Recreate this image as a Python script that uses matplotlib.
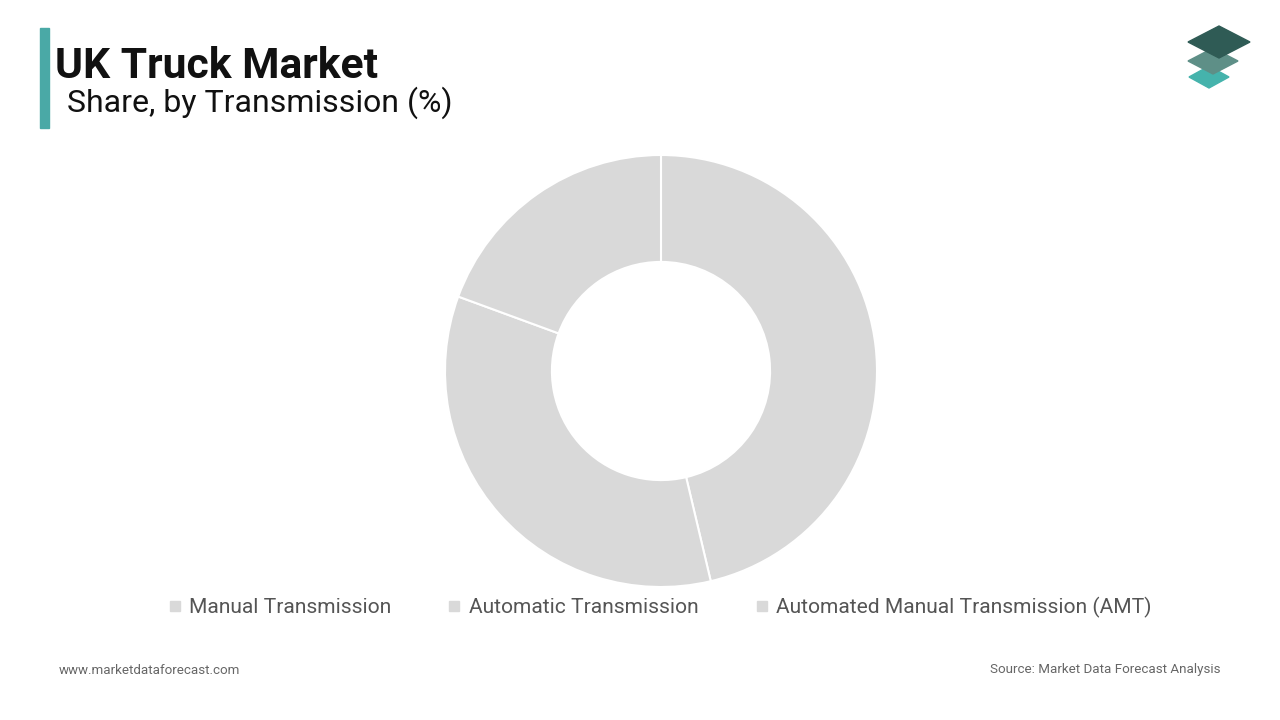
import matplotlib
matplotlib.use("Agg")
import matplotlib.pyplot as plt
from matplotlib.patches import Rectangle, Polygon
from matplotlib.lines import Line2D

categories = ["Manual Transmission", "Automatic Transmission", "Automated Manual Transmission (AMT)"]
values = [46.3, 34.3, 19.4]
colors = ["#d9d9d9", "#d9d9d9", "#d9d9d9"]

plt.rcParams['font.family'] = ['Roboto', 'DejaVu Sans']
fig = plt.figure(figsize=(12.8, 7.2), dpi=100)

W, H = 1280, 720
cx, cy, r = 661, 371, 216
ax = fig.add_axes([(cx - r) / W, (H - cy - r) / H, 2 * r / W, 2 * r / H])
ax.pie(values, colors=colors, startangle=90, counterclock=False, radius=1,
       wedgeprops=dict(width=0.495, edgecolor="white", linewidth=1.5))
ax.set_xlim(-1, 1); ax.set_ylim(-1, 1); ax.set_aspect("equal"); ax.axis("off")

# title bar
fig.patches.append(Rectangle((40 / W, 1 - 128 / H), 9 / W, 100 / H, transform=fig.transFigure,
                             color="#4aa9a6"))
fig.text(55 / W, 1 - 66 / H, "UK Truck Market", fontsize=30.7, fontweight="bold", va="center", color="#111")
fig.text(67 / W, 1 - 103 / H, "Share, by Transmission (%)", fontsize=23, va="center", color="#111")

# legend
handles = [Line2D([], [], marker="s", linestyle="", color=c, markersize=7) for c in colors]
fig.legend(handles, categories, loc="center", bbox_to_anchor=(659 / W, 1 - 607 / H), ncol=3,
           frameon=False, fontsize=15.1, labelcolor="#555555", handlelength=0.8,
           handletextpad=0.3, columnspacing=2.6)

fig.text(59 / W, 1 - 670 / H, "www.marketdataforecast.com", fontsize=9.6, color="#666", va="center")
fig.text(1220 / W, 1 - 670 / H, "Source: Market Data Forecast Analysis", fontsize=9.6, color="#666",
         va="center", ha="right")

# logo
def diamond(xc, yc, w, h, col):
    pts = [(xc - w / 2, yc), (xc, yc - h / 2), (xc + w / 2, yc), (xc, yc + h / 2)]
    fig.patches.append(Polygon([(x / W, 1 - y / H) for x, y in pts], closed=True,
                               transform=fig.transFigure, color=col))
diamond(1209, 77, 40, 22, "#45b3ac")
diamond(1213, 61, 50, 26, "#5e8f87")
diamond(1219, 42, 62, 32, "#2f5b55")

fig.savefig("out.png", dpi=100, facecolor="white")
